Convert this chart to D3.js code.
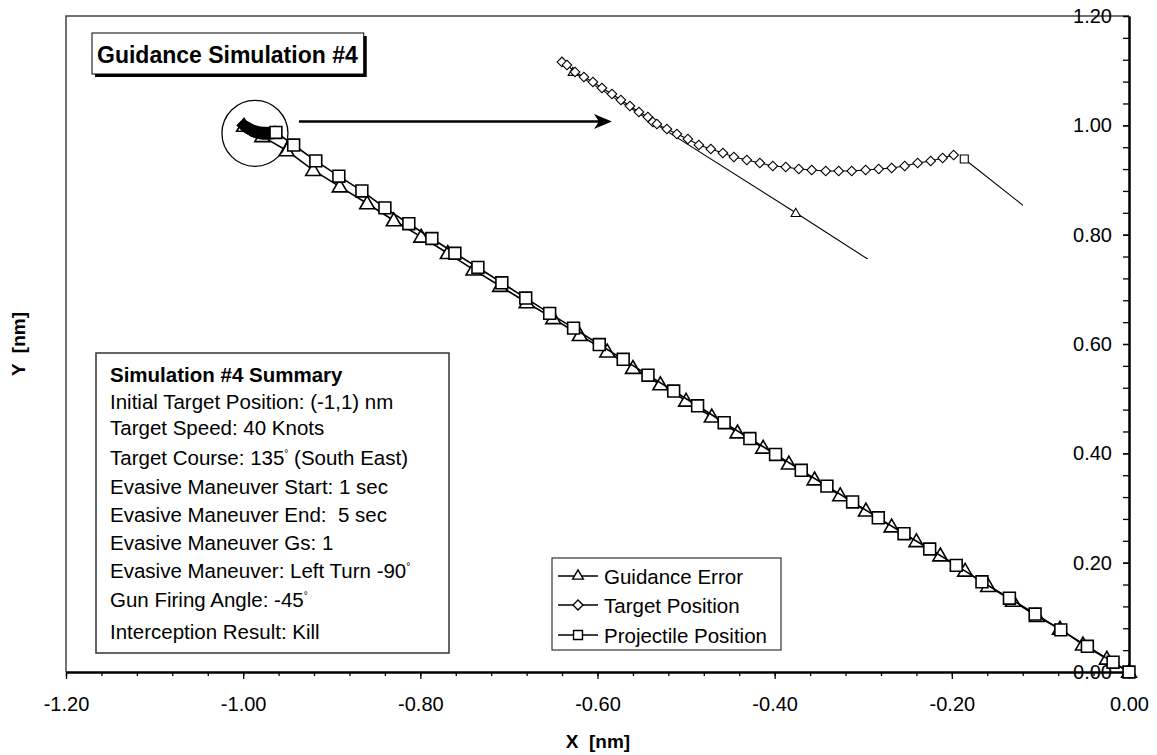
<!DOCTYPE html>
<html>
<head>
<meta charset="utf-8">
<script src="https://cdn.jsdelivr.net/npm/d3@7"></script>
<style>
  body { margin: 0; background: #fff; }
  text { font-family: Arial, "Liberation Sans", sans-serif; fill: #000; }
</style>
</head>
<body>
<svg id="chart" width="1157" height="755"></svg>
<script>
// ---- data (nm) ----
const seriesNames = ["Guidance Error", "Target Position", "Projectile Position"];

const guideX = [0, -0.025, -0.052, -0.078, -0.104, -0.131, -0.159, -0.185, -0.213, -0.240, -0.268, -0.297,
  -0.326, -0.355, -0.384, -0.413, -0.442, -0.471, -0.500, -0.529, -0.560, -0.589, -0.620, -0.650, -0.680,
  -0.710, -0.740, -0.769, -0.799, -0.830, -0.860, -0.891, -0.921, -0.951, -0.9785, -0.999];
const guideY = [0, 0.024, 0.050, 0.079, 0.102, 0.130, 0.157, 0.185, 0.213, 0.239, 0.266, 0.295,
  0.323, 0.352, 0.381, 0.410, 0.438, 0.467, 0.496, 0.526, 0.556, 0.586, 0.616, 0.647, 0.676,
  0.706, 0.736, 0.766, 0.796, 0.826, 0.857, 0.888, 0.918, 0.954, 0.9798, 0.9987];

const targetX = [-1.0000, -0.99954, -0.99880, -0.99798, -0.99715, -0.99632, -0.99540, -0.99458, -0.99375,
  -0.99292, -0.99210, -0.99164, -0.99127, -0.99035, -0.98943, -0.98842, -0.98741, -0.98631, -0.98520,
  -0.98419, -0.98300, -0.98180, -0.98061, -0.97942, -0.97822, -0.97703, -0.97574, -0.97455, -0.97335,
  -0.97207, -0.97087, -0.96968, -0.96848, -0.96729, -0.96609, -0.96499, -0.96398];
const targetY = [1.0000, 0.99959, 0.99865, 0.99798, 0.99731, 0.99651, 0.99571, 0.99490, 0.99410,
  0.99329, 0.99262, 0.99195, 0.99169, 0.99102, 0.99035, 0.98968, 0.98887, 0.98834, 0.98780,
  0.98727, 0.98686, 0.98646, 0.98606, 0.98592, 0.98566, 0.98552, 0.98539, 0.98539, 0.98539,
  0.98552, 0.98566, 0.98579, 0.98606, 0.98646, 0.98673, 0.98713, 0.98753];

const projX = [0, -0.018, -0.047, -0.077, -0.106, -0.135, -0.166, -0.195, -0.225, -0.254, -0.283, -0.312,
  -0.341, -0.370, -0.399, -0.428, -0.457, -0.487, -0.514, -0.543, -0.571, -0.598, -0.627, -0.654,
  -0.681, -0.708, -0.735, -0.761, -0.787, -0.813, -0.840, -0.866, -0.892, -0.918, -0.943, -0.963];
const projY = [0, 0.018, 0.047, 0.077, 0.106, 0.135, 0.165, 0.195, 0.225, 0.253, 0.282, 0.311,
  0.340, 0.369, 0.398, 0.427, 0.456, 0.487, 0.514, 0.543, 0.572, 0.599, 0.629, 0.656,
  0.684, 0.712, 0.740, 0.766, 0.793, 0.820, 0.849, 0.880, 0.907, 0.935, 0.964, 0.987];

const xTicks = [-1.2, -1.0, -0.8, -0.6, -0.4, -0.2, 0];
const yTicks = [0, 0.2, 0.4, 0.6, 0.8, 1.0, 1.2];

const titleText = "Guidance Simulation #4";
const summaryLines = [
  "Simulation #4 Summary",
  "Initial Target Position: (-1,1) nm",
  "Target Speed: 40 Knots",
  "Target Course: 135° (South East)",
  "Evasive Maneuver Start: 1 sec",
  "Evasive Maneuver End:  5 sec",
  "Evasive Maneuver Gs: 1",
  "Evasive Maneuver: Left Turn -90°",
  "Gun Firing Angle: -45°",
  "Interception Result: Kill"
];

// ---- layout ----
const svg = d3.select("#chart");
const x = d3.scaleLinear().domain([-1.2, 0]).range([66, 1129]);
const y = d3.scaleLinear().domain([0, 1.2]).range([672, 16]);

// magnified view of the interception area
const ix = d3.scaleLinear().domain([-1.00064, -0.9576]).range([555, 1023]);
const iy = d3.scaleLinear().domain([0.9736, 1.0016]).range([259, 50]);

const zip = (a, b) => a.map((v, i) => [v, b[i]]);
const guide = zip(guideX, guideY);
const target = zip(targetX, targetY);
const proj = zip(projX, projY);

// plot frame (left / top)
svg.append("path")
  .attr("d", `M${x(-1.2)},${y(0)}V${y(1.2)}H${x(0)}`)
  .attr("fill", "none").attr("stroke", "#444").attr("stroke-width", 1.5);

// axes
const fmt = d => d.toFixed(2);
const xMinor = d3.range(31).map(i => -1.2 + i * 0.04);
const yMinor = d3.range(31).map(i => i * 0.04);

const gx = svg.append("g").attr("transform", `translate(0,${y(0)})`);
gx.append("g").call(d3.axisBottom(x).tickValues(xMinor).tickSize(4).tickFormat("").tickSizeOuter(0));
gx.append("g").call(d3.axisBottom(x).tickValues(xTicks).tickSize(7).tickPadding(18).tickFormat(fmt).tickSizeOuter(0));

const gy = svg.append("g").attr("transform", `translate(${x(0)},0)`);
gy.append("g").call(d3.axisLeft(y).tickValues(yMinor).tickSize(6).tickFormat("").tickSizeOuter(0));
gy.append("g").call(d3.axisLeft(y).tickValues(yTicks).tickSize(6).tickPadding(11).tickFormat(fmt).tickSizeOuter(0));

svg.selectAll(".domain").attr("stroke", "#000").attr("stroke-width", 2);
svg.selectAll(".tick line").attr("stroke", "#000").attr("stroke-width", 1.3);
svg.selectAll(".tick text").attr("font-size", 20).attr("font-family", "Arial, 'Liberation Sans', sans-serif").attr("fill", "#000");

// axis titles
svg.append("text").attr("x", 598).attr("y", 748).attr("text-anchor", "middle")
  .attr("font-weight", "bold").attr("font-size", 19).attr("xml:space", "preserve").text("X  [nm]");
svg.append("text").attr("transform", "translate(25,344) rotate(-90)").attr("text-anchor", "middle")
  .attr("font-weight", "bold").attr("font-size", 19).attr("xml:space", "preserve").text("Y  [nm]");

// markers
const sym = {
  tri: s => d3.symbol(d3.symbolTriangle).size(s)(),
  sq: s => d3.symbol(d3.symbolSquare).size(s)(),
  dia: s => d3.symbol(d3.symbolSquare).size(s)()
};

function drawSeries(g, pts, sx, sy, shape, size, lw) {
  g.append("path").datum(pts)
    .attr("d", d3.line().x(d => sx(d[0])).y(d => sy(d[1])))
    .attr("fill", "none").attr("stroke", "#000").attr("stroke-width", lw);
  g.selectAll(null).data(pts).enter().append("path")
    .attr("d", sym[shape](size))
    .attr("transform", d => `translate(${sx(d[0])},${sy(d[1])})` + (shape === "dia" ? " rotate(45)" : "") + (shape === "tri" ? " translate(0,1)" : ""))
    .attr("fill", "#fff").attr("stroke", "#000").attr("stroke-width", lw);
}

const main = svg.append("g");
drawSeries(main, guide, x, y, "tri", 95, 1.6);
drawSeries(main, target, x, y, "dia", 64, 1.6);
drawSeries(main, proj, x, y, "sq", 140, 1.6);

// inset (zoomed) view
svg.append("clipPath").attr("id", "insetClip").append("rect")
  .attr("x", 555).attr("y", 50).attr("width", 468).attr("height", 209);
const inset = svg.append("g").attr("clip-path", "url(#insetClip)");
drawSeries(inset, guide, ix, iy, "tri", 38, 1.1);
drawSeries(inset, target, ix, iy, "dia", 46, 1.1);
drawSeries(inset, proj, ix, iy, "sq", 64, 1.1);

// circle around interception area and arrow to inset
svg.append("circle").attr("cx", x(-0.9867)).attr("cy", y(0.9854)).attr("r", 33)
  .attr("fill", "none").attr("stroke", "#000").attr("stroke-width", 1.3);
const ax0 = x(-0.937), ax1 = x(-0.5837), ay = y(1.007);
svg.append("line").attr("x1", ax0).attr("x2", ax1 - 10).attr("y1", ay).attr("y2", ay)
  .attr("stroke", "#000").attr("stroke-width", 2.5);
svg.append("path")
  .attr("d", `M${ax1},${ay}L${ax1 - 18},${ay - 7.5}L${ax1 - 13},${ay}L${ax1 - 18},${ay + 7.5}Z`)
  .attr("fill", "#000");

// title box with shadow
const tg = svg.append("g");
const tShadow = tg.append("rect").attr("fill", "#000");
const tBox = tg.append("rect").attr("fill", "#fff").attr("stroke", "#000").attr("stroke-width", 1);
const tText = tg.append("text").attr("x", 97).attr("y", 63)
  .attr("font-weight", "bold").attr("font-size", 23).text(titleText);
const tw = tText.node().getComputedTextLength();
tBox.attr("x", 92).attr("y", 33).attr("width", tw + 11).attr("height", 41);
tShadow.attr("x", 95).attr("y", 36).attr("width", tw + 11).attr("height", 41);

// summary box
const sg = svg.append("g");
const sBox = sg.append("rect").attr("fill", "#fff").attr("stroke", "#333").attr("stroke-width", 1.5);
const lineY = [382, 409, 435, 465, 494, 522, 550, 578, 607, 639];
let maxW = 0;
summaryLines.forEach((s, i) => {
  const t = sg.append("text").attr("x", 110).attr("y", lineY[i]).attr("font-size", 20.5)
    .attr("xml:space", "preserve");
  if (i === 0) t.attr("font-weight", "bold");
  const parts = s.split("°");
  parts.forEach((p, j) => {
    t.append("tspan").attr("dy", j > 0 ? 8 : null).text(p);
    if (j < parts.length - 1) t.append("tspan").attr("dy", -8).attr("font-size", 10).text("°");
  });
  maxW = Math.max(maxW, t.node().getComputedTextLength());
});
sBox.attr("x", 96).attr("y", 353).attr("width", Math.max(353, maxW + 28)).attr("height", 300);

// legend
const lg = svg.append("g");
lg.append("rect").attr("x", 552).attr("y", 558).attr("width", 229).attr("height", 92)
  .attr("fill", "#fff").attr("stroke", "#333").attr("stroke-width", 1.2);
const legShapes = [["tri", 50], ["dia", 50], ["sq", 80]];
const legY = [576, 605, 635];
seriesNames.forEach((n, i) => {
  lg.append("line").attr("x1", 558).attr("x2", 598).attr("y1", legY[i]).attr("y2", legY[i])
    .attr("stroke", "#000").attr("stroke-width", 1.4);
  lg.append("path").attr("d", sym[legShapes[i][0]](legShapes[i][1]))
    .attr("transform", `translate(578,${legY[i]})` + (legShapes[i][0] === "dia" ? " rotate(45)" : ""))
    .attr("fill", "#fff").attr("stroke", "#000").attr("stroke-width", 1.4);
  lg.append("text").attr("x", 604).attr("y", legY[i] + 7.5).attr("font-size", 20.5).text(n);
});
</script>
</body>
</html>
